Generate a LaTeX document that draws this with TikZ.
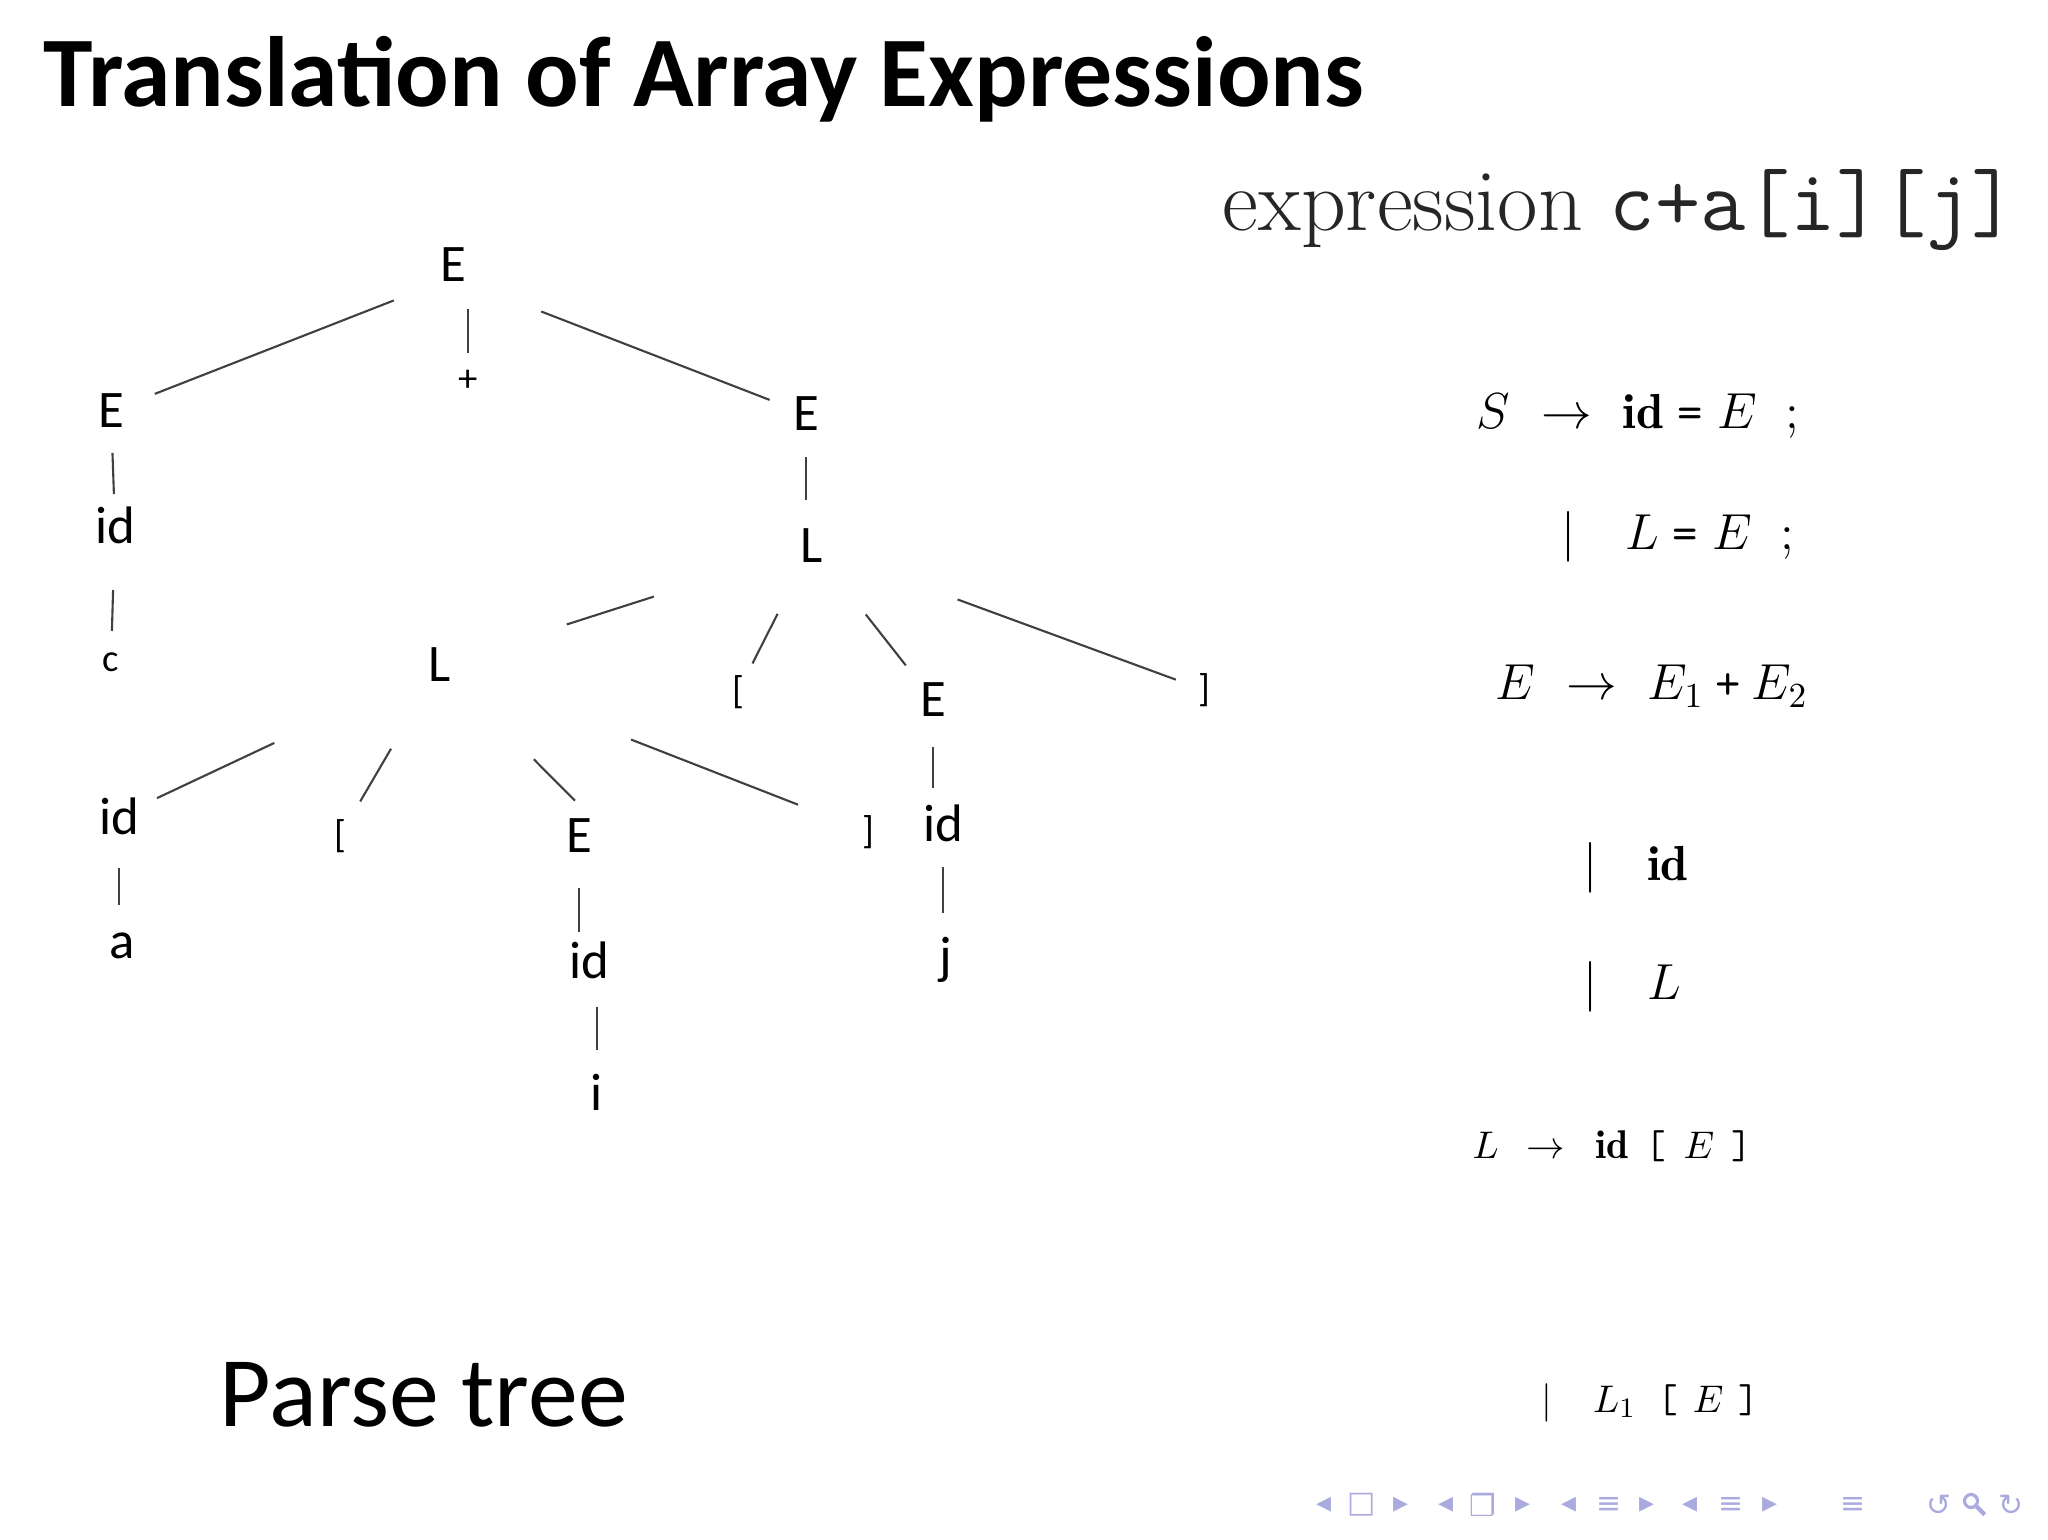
\documentclass[tikz,border=0pt]{standalone}
\usepackage{fontspec}
\newfontfamily\calibri{Carlito}
\newfontfamily\navfont{DejaVu Sans}
\definecolor{navcol}{RGB}{170,170,222}
\newcommand{\prodarrow}{\mskip6mu\rightarrow\mskip6mu}
\newcommand{\tsym}[1]{\mbox{\ttfamily #1}}

\begin{document}
\begin{tikzpicture}[x=0.01cm,y=-0.01cm]

\tikzset{tnode/.style={font=\calibri\fontsize{15}{18}\selectfont,inner sep=0pt,text=black},}
\tikzset{tsmall/.style={font=\calibri\fontsize{11}{13}\selectfont,inner sep=0pt,text=black},}
\tikzset{branch/.style={black!75,line width=0.6pt},}
\tikzset{prod/.style={anchor=base west,inner sep=0pt,font=\fontsize{14}{17}\selectfont},}
\tikzset{prodsmall/.style={anchor=base west,inner sep=0pt,font=\fontsize{11.4}{14}\selectfont},}
\tikzset{nav/.style={navcol,font=\navfont\fontsize{8.5}{10}\selectfont,inner sep=0pt},}

\useasboundingbox (0,0) rectangle (2048,1540);

%TITOLO
\node[anchor=base west,inner sep=0pt,font=\calibri\bfseries\fontsize{28.4}{34}\selectfont] (title) at (43,107) {Translation of Array Expressions};
\node[anchor=base west,inner sep=0pt,font=\fontsize{25}{30}\selectfont,black!85] (expr) at (1222,231) {expression \texttt{c+a[i][j]}};

%ALBERO
\node[tnode] (Etop) at (453,265) {E};
\node[tsmall] (plus) at (468,381) {+};
\node[tnode] (Eleft) at (111,411) {E};
\node[tnode] (Eright) at (806,414) {E};
\node[tnode] (idc) at (115,525) {id};
\node[tsmall] (c) at (111,662) {c};
\node[tnode] (Lr) at (812,546) {L};
\node[tnode] (Lm) at (440,665) {L};
\node[tsmall] (lb1) at (738,692) {[};
\node[tnode] (Ej) at (933,700) {E};
\node[tsmall] (rb1) at (1204,690) {]};
\node[tnode] (ida) at (119,816) {id};
\node[tsmall] (lb2) at (340,836) {[};
\node[tnode] (Ei) at (579,836) {E};
\node[tsmall] (rb2) at (868,832) {]};
\node[tnode] (idj) at (943,823) {id};
\node[tnode] (a) at (122,946) {a};
\node[tnode] (idi) at (589,960) {id};
\node[tnode] (j) at (946,960) {j};
\node[tnode] (i) at (597,1092) {i};

\draw[branch,shorten <=0.49cm,shorten >=0.47cm] (Etop.south west) -- (Eleft.center);
\draw[branch,shorten <=0.26cm,shorten >=0.28cm] (plus.center |- Etop.south) -- (plus.center);
\draw[branch,shorten <=0.80cm,shorten >=0.39cm] (Etop.south east) -- (Eright.center);
\draw[branch,shorten <=0.42cm,shorten >=0.31cm] (Eleft.center) -- (idc.center);
\draw[branch,shorten <=0.65cm,shorten >=0.31cm] (idc.center) -- (c.center);
\draw[branch,shorten <=0.43cm,shorten >=0.46cm] (Eright.center) -- (Eright.center |- Lr.center);
\draw[branch,shorten <=1.66cm,shorten >=1.33cm] (Lr.center) -- (Lm.center);
\draw[branch,shorten <=0.76cm,shorten >=0.32cm] (Lr.center) -- (lb1.center);
\draw[branch,shorten <=0.87cm,shorten >=0.44cm] (Lr.center) -- (Ej.center);
\draw[branch,shorten <=1.55cm,shorten >=0.30cm] (Lr.center) -- (rb1.center);
\draw[branch,shorten <=1.83cm,shorten >=0.42cm] (Lm.center) -- (ida.center);
\draw[branch,shorten <=0.97cm,shorten >=0.40cm] (Lm.center) -- (lb2.center);
\draw[branch,shorten <=1.33cm,shorten >=0.25cm] (Lm.center) -- (Ei.north east);
\draw[branch,shorten <=2.05cm,shorten >=0.75cm] (Lm.center) -- (rb2.center);
\draw[branch,shorten <=0.47cm,shorten >=0.16cm] (Ej.center) -- (Ej.center |- idj.north);
\draw[branch,shorten <=0.44cm,shorten >=0.47cm] (idj.center) -- (idj.center |- j.center);
\draw[branch,shorten <=0.52cm,shorten >=0.41cm] (ida.center) -- (ida.center |- a.center);
\draw[branch,shorten <=0.52cm,shorten >=0.28cm] (Ei.center) -- (Ei.center |- idi.center);
\draw[branch,shorten <=0.47cm,shorten >=0.42cm] (i.center |- idi.center) -- (i.center);

\node[anchor=base west,inner sep=0pt,font=\calibri\fontsize{28.4}{34}\selectfont] (parse) at (219,1426) {Parse tree};

%GRAMMATICA
\node[prod] (p1) at (1476,429) {$S\prodarrow\mathbf{id}\;\tsym{=}\;E\;\;;$};
\node[prod] (p2) at (1561,550) {$|\quad L\;\tsym{=}\;E\;\;;$};
\node[prod] (p3) at (1495,700) {$E\prodarrow E_1\mathbin{\tsym{+}}E_2$};
\node[prod] (p4) at (1583,880) {$|\quad\mathbf{id}$};
\node[prod] (p5) at (1583,999) {$|\quad L$};
\node[prodsmall] (p6) at (1472,1158) {$L\mskip8mu\rightarrow\mskip9mu\mathbf{id}\mskip8mu\tsym{[}\mskip8mu E\mskip8mu\tsym{]}$};
\node[prodsmall] (p7) at (1541,1412) {$|\mskip19mu L_1\mskip10mu\tsym{[}\mskip7mu E\mskip7mu\tsym{]}$};

%NAVIGAZIONE
\node[nav] (n1) at (1324,1505) {◂};
\node[nav] (n2) at (1362,1505) {□};
\node[nav] (n3) at (1401,1505) {▸};
\node[nav] (n4) at (1446,1505) {◂};
\node[nav] (n5) at (1483,1505) {❐};
\node[nav] (n6) at (1523,1505) {▸};
\node[nav] (n7) at (1569,1505) {◂};
\node[nav] (n8) at (1609,1505) {≡};
\node[nav] (n9) at (1647,1505) {▸};
\node[nav] (n10) at (1690,1505) {◂};
\node[nav] (n11) at (1731,1505) {≡};
\node[nav] (n12) at (1770,1505) {▸};
\node[nav] (n13) at (1853,1505) {≡};
\node[nav] (n14) at (1939,1505) {↺};
\node[nav,circle,draw,minimum size=0.13cm,line width=0.9pt] (n15) at (1971,1501) {};
\draw[navcol,line width=1.2pt] (n15.south east) -- ++(8,8);
\node[nav] (n16) at (2011,1505) {↻};

\end{tikzpicture}
\end{document}
